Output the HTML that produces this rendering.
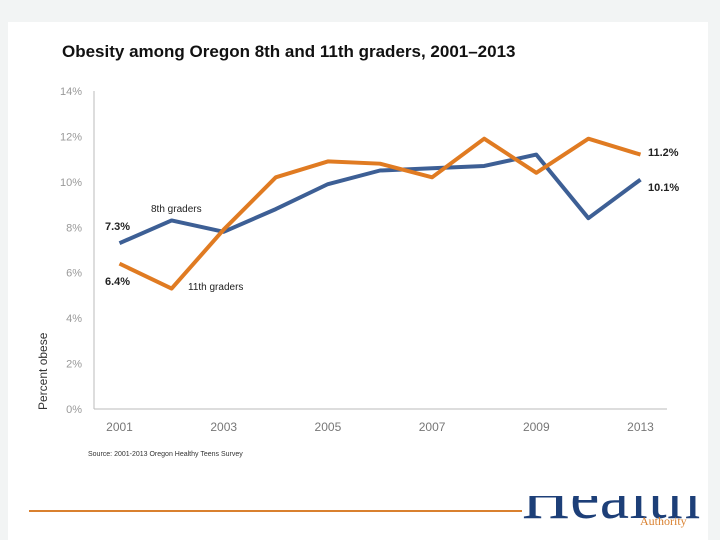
<!DOCTYPE html>
<html><head><meta charset="utf-8"><style>
body{margin:0;width:720px;height:540px;background:#f2f4f4;overflow:hidden;font-family:"Liberation Sans",sans-serif}
#card{position:absolute;left:8px;top:22px;width:700px;height:518px;background:#fff}
</style></head><body>
<div id="card"></div>
<svg width="720" height="540" style="position:absolute;left:0;top:0">
<text x="62" y="57" font-size="17" font-weight="bold" fill="#111">Obesity among Oregon 8th and 11th graders, 2001–2013</text>
<line x1="94" y1="91" x2="94" y2="409" stroke="#bbb"/>
<line x1="94" y1="409" x2="667" y2="409" stroke="#bbb"/>
<g id="yt"></g><g id="xt"></g><g id="lines"></g>
<text transform="translate(47,410) rotate(-90)" font-size="12" fill="#333">Percent obese</text>
<text x="151" y="212" font-size="10" fill="#222">8th graders</text>
<text x="188" y="290" font-size="10" fill="#222">11th graders</text>
<text x="105" y="230" font-size="11" font-weight="bold" fill="#222">7.3%</text>
<text x="105" y="285" font-size="11" font-weight="bold" fill="#222">6.4%</text>
<text x="648" y="156" font-size="11" font-weight="bold" fill="#222">11.2%</text>
<text x="648" y="191" font-size="11" font-weight="bold" fill="#222">10.1%</text>
<text x="88" y="456" font-size="7" fill="#333">Source: 2001-2013 Oregon Healthy Teens Survey</text>
<line x1="29" y1="511" x2="522" y2="511" stroke="#d9802f" stroke-width="2"/>
<clipPath id="lc"><rect x="520" y="496" width="200" height="30"/></clipPath>
<text x="522" y="518" font-family="Liberation Serif" font-size="66" fill="#1d3f78" clip-path="url(#lc)" textLength="178">Health</text>
<text x="640" y="525" font-family="Liberation Serif" font-size="12" fill="#d9802f">Authority</text>
</svg>
<script>
const categories=["2001","2002","2003","2004","2005","2006","2007","2008","2009","2011","2013"];
const xLabels=["2001","","2003","","2005","","2007","","2009","","2013"];
const grade8=[7.3,8.3,7.8,8.8,9.9,10.5,10.6,10.7,11.2,8.4,10.1];
const grade11=[6.4,5.3,7.9,10.2,10.9,10.8,10.2,11.9,10.4,11.9,11.2];
const yTicks=[0,2,4,6,8,10,12,14];
const NS="http://www.w3.org/2000/svg";
const x=i=>119.5+i*(521/(categories.length-1));
const y=v=>409-v*(318/14);
const yt=document.getElementById('yt'),xt=document.getElementById('xt'),lg=document.getElementById('lines');
yTicks.forEach(t=>{const e=document.createElementNS(NS,'text');


e.setAttribute('x',82);e.setAttribute('y',y(t)+4);e.setAttribute('text-anchor','end');e.setAttribute('font-size','11');e.setAttribute('fill','#999');e.textContent=t+'%';yt.appendChild(e);});
xLabels.forEach((l,i)=>{if(!l)return;const e=document.createElementNS(NS,'text');


e.setAttribute('x',x(i));e.setAttribute('y',431);e.setAttribute('text-anchor','middle');e.setAttribute('font-size','12');e.setAttribute('fill','#777');e.textContent=l;xt.appendChild(e);});
function line(d,c,n){const p=document.createElementNS(NS,'polyline');


p.setAttribute('points',d.map((v,i)=>x(i)+','+y(v)).join(' '));p.setAttribute('fill','none');p.setAttribute('stroke',c);p.setAttribute('stroke-width','4');p.setAttribute('stroke-linejoin','round');lg.appendChild(p);}
line(grade8,'#3d5f95','line-8th-graders');
line(grade11,'#e07b22','line-11th-graders');
</script>
</body></html>
